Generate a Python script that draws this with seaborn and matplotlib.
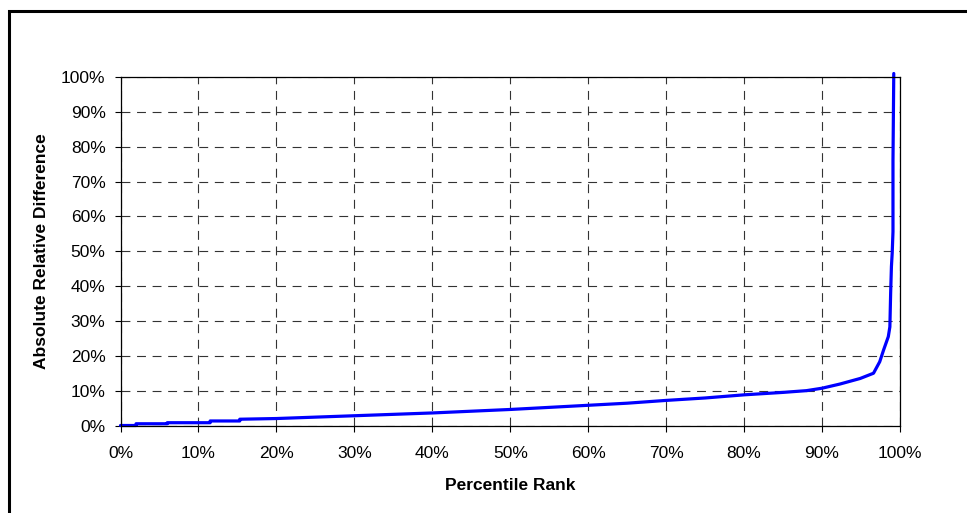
import numpy as np
import pandas as pd
import seaborn as sns
import matplotlib.pyplot as plt
from matplotlib.patches import Rectangle
from matplotlib.ticker import PercentFormatter

# percentile rank (%) vs absolute relative difference (%)
rank = [0, 2.0, 2.0, 6.0, 6.0, 11.5, 11.5, 15.3, 15.3, 20, 25, 30, 35, 40, 45,
        50, 55, 60, 65, 70, 75, 80, 85, 88, 90, 92.3, 94.9, 96.6, 97.4, 97.9,
        98.5, 98.7, 98.8, 98.9, 99.0, 99.1, 99.1, 99.2]
diff = [0, 0, 0.5, 0.5, 0.8, 0.8, 1.3, 1.3, 1.8, 2.0, 2.4, 2.8, 3.2, 3.6, 4.1,
        4.6, 5.2, 5.8, 6.4, 7.2, 7.9, 8.8, 9.5, 10.0, 10.7, 11.9, 13.5, 15.0,
        18.3, 21.7, 25.5, 28.3, 38.0, 45.6, 49.5, 55.6, 76.0, 101.0]

x_ticks = list(range(0, 101, 10))
y_ticks = list(range(0, 101, 10))

df = pd.DataFrame({"rank": rank, "diff": diff})

sns.set_style("white")
plt.rcParams["font.family"] = ["Liberation Sans", "DejaVu Sans"]
plt.rcParams["text.color"] = "black"
plt.rcParams["axes.labelcolor"] = "black"
plt.rcParams["xtick.color"] = "black"
plt.rcParams["ytick.color"] = "black"

fig = plt.figure(figsize=(9.67, 5.13), dpi=100)
ax = fig.add_axes([120.5 / 967, 1 - 425.5 / 513, (900 - 120.5) / 967, (425.5 - 77) / 513])

sns.lineplot(data=df, x="rank", y="diff", ax=ax, color="#0000ff",
             linewidth=2.3, estimator=None, sort=False)
for ln in ax.lines:
    ln.set_clip_on(False)

ax.set_xlim(0, 100)
ax.set_ylim(0, 100)
ax.set_xticks(x_ticks)
ax.set_yticks(y_ticks)
ax.xaxis.set_major_formatter(PercentFormatter(decimals=0))
ax.yaxis.set_major_formatter(PercentFormatter(decimals=0))

ax.grid(True, color="#333333", linestyle=(0, (8, 6)), linewidth=0.8)
ax.set_axisbelow(True)
for s in ax.spines.values():
    s.set_visible(True)
    s.set_color("black")
    s.set_linewidth(0.9)

ax.tick_params(axis="both", direction="out", length=4.3, width=0.8,
               labelsize=12.5, bottom=True, left=True)
ax.tick_params(axis="x", pad=10.5)
ax.tick_params(axis="y", pad=6.5)
ax.set_xlabel("Percentile Rank", fontsize=12.5, fontweight="bold", labelpad=12.5)
ax.set_ylabel("Absolute Relative Difference", fontsize=12.5, fontweight="bold", labelpad=8.5)

# outer chart border (top and left visible, rest runs off the image)
fig.add_artist(Rectangle((9 / 967, -0.1), 1.2, 1.1 - 11 / 513,
                         transform=fig.transFigure, fill=False,
                         edgecolor="black", linewidth=2.2, clip_on=False))

fig.savefig("out.png", dpi=100)
